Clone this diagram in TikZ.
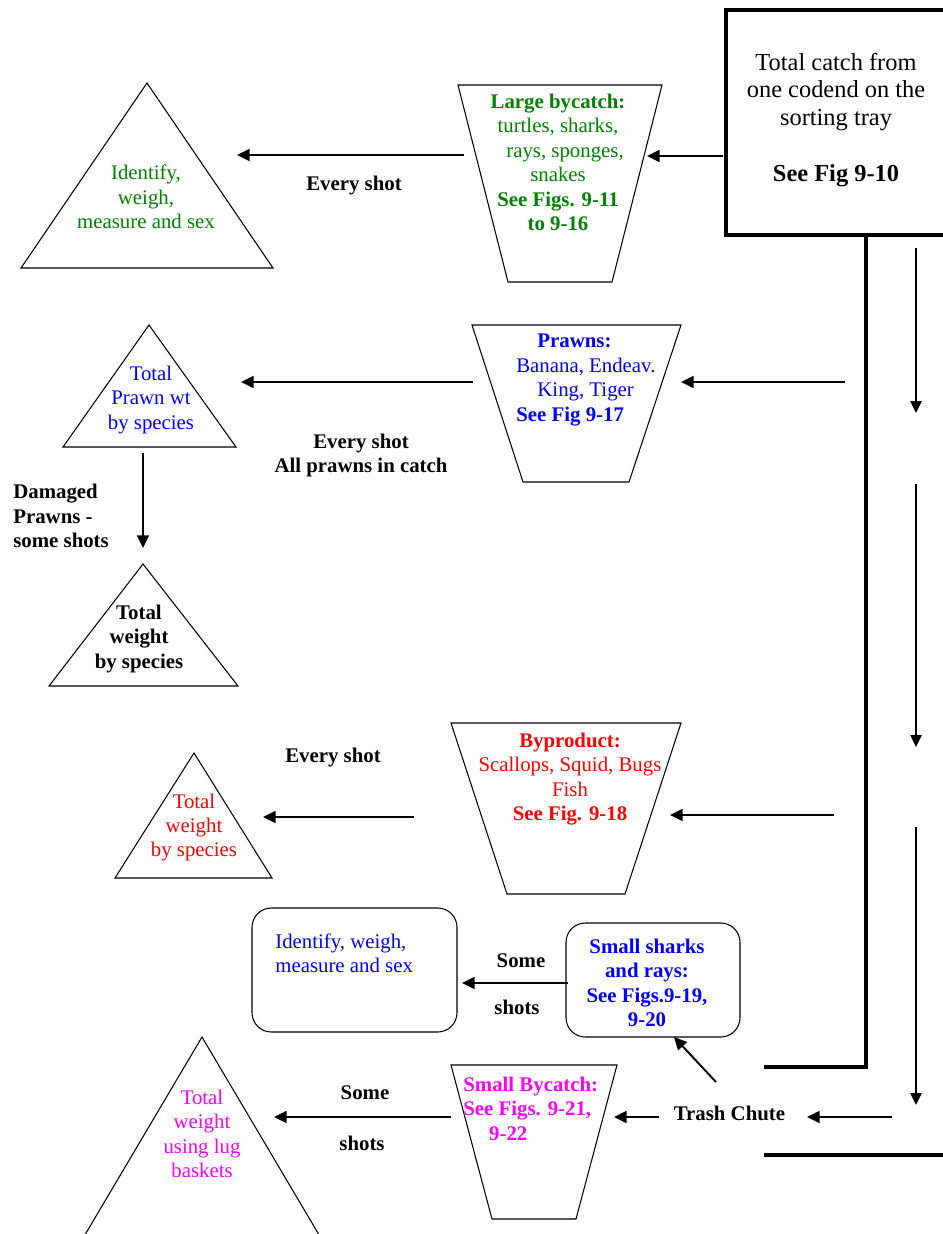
\documentclass[tikz,border=0pt]{standalone}
\usepackage{fontspec}
\setmainfont{Liberation Serif}
\usetikzlibrary{arrows.meta}

\definecolor{bygreen}{RGB}{0,128,0}
\definecolor{prawnblue}{RGB}{0,0,255}
\definecolor{prodred}{RGB}{255,0,0}
\definecolor{smallmag}{RGB}{255,0,255}

\newcommand{\diagsize}{\fontsize{11.85}{13.9}\selectfont}
\newcommand{\traysize}{\fontsize{13.9}{15.9}\selectfont}

\begin{document}
\begin{tikzpicture}[x=0.02cm, y=-0.02cm,
    flow/.style={-{Triangle[length=7.2pt,width=6.8pt]}, line width=1.1pt},
    feed/.style={-{Triangle[length=6.8pt,width=6.4pt]}, line width=0.85pt},
    bin/.style={line width=0.6pt},
    chute/.style={line width=1.9pt},
    txt/.style={inner sep=0pt, align=center, font=\diagsize},
    ltxt/.style={inner sep=0pt, align=left, anchor=west, font=\diagsize},
    lbl/.style={inner sep=0pt, align=center, font=\diagsize\bfseries}]

    % 1. FOLHA (mesmas proporcoes da figura)
    \clip (0,0) rectangle (943,1234);

    % ==========================================
    % 2. BANDEJA DE TRIAGEM E CALHA
    % ==========================================
    \draw[chute] (960,10) -- (726,10) -- (726,235) -- (960,235);
    \node[txt, font=\traysize] (tray) at (836,120)
        {Total catch from\\one codend on the\\sorting tray\\[15.9pt]\textbf{See Fig 9-10}};
    \draw[chute] (866,235) -- (866,1067) -- (764,1067);
    \draw[chute] (764,1155) -- (960,1155);

    % setas da direita (descendo a bandeja)
    \coordinate (feedA) at (916,248);
    \coordinate (feedB) at (916,413);
    \coordinate (feedC) at (916,484);
    \coordinate (feedD) at (916,747);
    \coordinate (feedE) at (916,827);
    \coordinate (feedF) at (916,1105);
    \draw[feed] (feedA) -- (feedB);
    \draw[feed] (feedC) -- (feedD);
    \draw[feed] (feedE) -- (feedF);

    % ==========================================
    % 3. LARGE BYCATCH
    % ==========================================
    \draw[bin] (458,85) -- (662,85) -- (612,282) -- (508,282) -- cycle;
    \node[txt, text=bygreen] (large) at (558,162.5)
        {\textbf{Large bycatch:}\\turtles, sharks,\\\hspace*{8pt}rays, sponges,\\snakes\\
         \textbf{See Figs. 9-11}\\\textbf{to 9-16}};
    \draw[bin] (147,83) -- (273,268) -- (21,268) -- cycle;
    \node[txt, text=bygreen] (largeid) at (146,197) {Identify,\\weigh,\\measure and sex};
    \node[lbl] (shotA) at (354,186) {Every shot};

    \coordinate (trayW) at (723,156);
    \coordinate (largeE) at (647,156);
    \coordinate (largeW) at (464,155);
    \coordinate (largeidE) at (237,155);
    \draw[flow] (trayW) -- (largeE);
    \draw[flow] (largeW) -- (largeidE);

    % ==========================================
    % 4. PRAWNS
    % ==========================================
    \draw[bin] (472,325) -- (681,325) -- (629,482) -- (523,482) -- cycle;
    \node[ltxt, text=prawnblue] (prawns) at (516,380)
        {\hspace*{12pt}\textbf{Prawns:}\\Banana, Endeav.\\\hspace*{12pt}King, Tiger\\\textbf{See Fig 9-17}};
    \draw[bin] (149,325) -- (236,447) -- (63,447) -- cycle;
    \node[txt, text=prawnblue] (prawnwt) at (151,400) {Total\\Prawn wt\\by species};
    \node[lbl] (shotB) at (361,455.5) {Every shot\\All prawns in catch};
    \node[ltxt, font=\diagsize\bfseries] (damaged) at (13,516) {Damaged\\Prawns -\\some shots};
    \draw[bin] (143,564) -- (238,686) -- (49,686) -- cycle;
    \node[lbl] (prawnsp) at (139,639) {Total\\weight\\by species};

    \coordinate (chuteB) at (845,382);
    \coordinate (prawnsE) at (681,382);
    \coordinate (prawnsW) at (473,382);
    \coordinate (prawnwtE) at (241,382);
    \coordinate (prawnwtS) at (143,453);
    \coordinate (prawnspN) at (143,548);
    \draw[flow] (chuteB) -- (prawnsE);
    \draw[flow] (prawnsW) -- (prawnwtE);
    \draw[flow] (prawnwtS) -- (prawnspN);

    % ==========================================
    % 5. BYPRODUCT
    % ==========================================
    \draw[bin] (451,723) -- (681,723) -- (625,894) -- (507,894) -- cycle;
    \node[txt, text=prodred] (byprod) at (570,779)
        {\textbf{Byproduct:}\\Scallops, Squid, Bugs\\Fish\\\textbf{See Fig. 9-18}};
    \draw[bin] (194,753) -- (272,878) -- (115,878) -- cycle;
    \node[txt, text=prodred] (byprodwt) at (194,827.5) {Total\\weight\\by species};
    \node[lbl] (shotC) at (333,758) {Every shot};

    \coordinate (chuteC) at (834,815);
    \coordinate (byprodE) at (670,815);
    \coordinate (byprodW) at (414,817);
    \coordinate (byprodwtE) at (263,817);
    \draw[flow] (chuteC) -- (byprodE);
    \draw[flow] (byprodW) -- (byprodwtE);

    % ==========================================
    % 6. SMALL SHARKS AND RAYS
    % ==========================================
    \draw[bin, rounded corners=11pt] (566,923) rectangle (740,1037);
    \node[lbl, text=prawnblue] (sharks) at (647,983)
        {Small sharks\\and rays:\\See Figs.9-19,\\9-20};
    \draw[bin, rounded corners=11pt] (252,908) rectangle (457,1032);
    \node[ltxt, text=prawnblue] (sharksid) at (275,953.5) {Identify, weigh,\\measure and sex};
    \node[lbl] (someA) at (521,961) {Some};
    \node[lbl] (shotsA) at (517,1007) {shots};

    \coordinate (sharksW) at (568,983);
    \coordinate (sharksidE) at (462,983);
    \draw[flow] (sharksW) -- (sharksidE);

    % ==========================================
    % 7. TRASH CHUTE / SMALL BYCATCH
    % ==========================================
    \node[lbl] (trash) at (729.5,1113) {Trash Chute};
    \draw[bin] (451,1065) -- (617,1065) -- (576,1219) -- (492,1219) -- cycle;
    \node[ltxt, font=\diagsize\bfseries, text=smallmag] (smallby) at (463,1108.5)
        {Small Bycatch:\\See Figs. 9-21,\\\hspace*{14.7pt}9-22};
    \draw[bin] (202,1037) -- (328,1250) -- (76,1250) -- cycle;
    \node[txt, text=smallmag] (lugwt) at (202,1134) {Total\\weight\\using lug\\baskets};
    \node[lbl] (someB) at (365,1093) {Some};
    \node[lbl] (shotsB) at (362,1143) {shots};

    \coordinate (chuteD) at (892,1117);
    \coordinate (trashE) at (807,1117);
    \coordinate (trashN) at (716,1082);
    \coordinate (sharksS) at (674,1037);
    \coordinate (trashW) at (659,1117);
    \coordinate (smallbyE) at (614,1117);
    \coordinate (smallbyW) at (451,1117);
    \coordinate (lugwtE) at (274,1117);
    \draw[flow] (chuteD) -- (trashE);
    \draw[flow] (trashN) -- (sharksS);
    \draw[flow] (trashW) -- (smallbyE);
    \draw[flow] (smallbyW) -- (lugwtE);
\end{tikzpicture}
\end{document}
